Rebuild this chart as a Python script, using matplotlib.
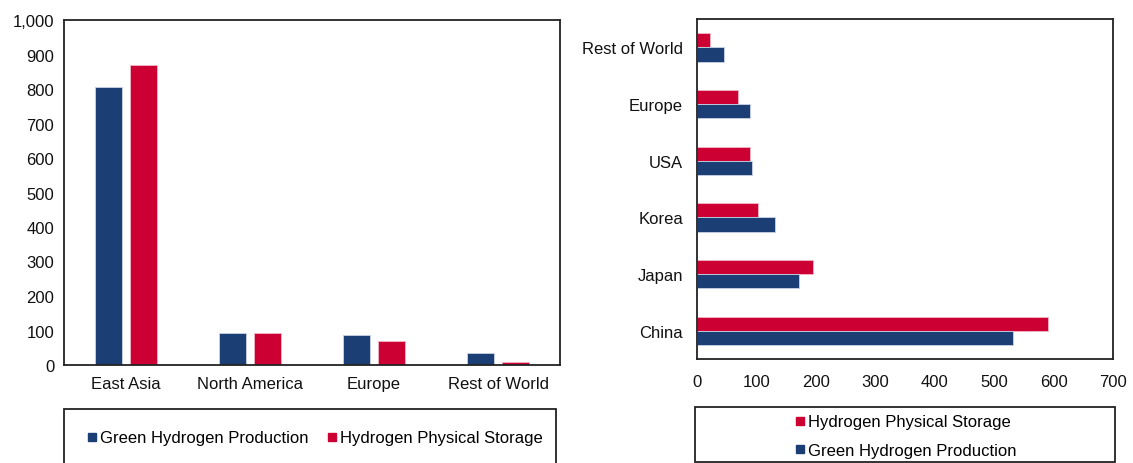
import matplotlib
matplotlib.use("Agg")
import matplotlib.pyplot as plt
from matplotlib.patches import Rectangle
from matplotlib.lines import Line2D
import numpy as np

plt.rcParams['font.family'] = ['Liberation Sans', 'DejaVu Sans']

# === datos ===
regions = ["East Asia", "North America", "Europe", "Rest of World"]
region_production = [805, 94, 88, 36]
region_storage = [869, 94, 70, 8]

countries = ["China", "Japan", "Korea", "USA", "Europe", "Rest of World"]
country_production = [531, 172, 132, 92, 89, 45]
country_storage = [591, 195, 102, 89, 69, 22]

BLUE = "#1b3f74"
RED = "#cc0033"
W, H = 1133, 464

fig = plt.figure(figsize=(W / 100, H / 100), dpi=100)

def box(x0, y0, x1, y1):
    # caja en coordenadas de pixel (origen arriba a la izquierda)
    return [x0 / W, 1 - y1 / H, (x1 - x0) / W, (y1 - y0) / H]

# === grafico izquierdo (barras verticales) ===
ax1 = fig.add_axes(box(64, 21, 560, 366))
x = np.arange(len(regions))
bw = 0.22
ax1.bar(x - 0.14, region_production, bw, color=BLUE, edgecolor="#c9d3e3", linewidth=0.6)
ax1.bar(x + 0.14, region_storage, bw, color=RED, edgecolor="#f2b8c6", linewidth=0.6)
ax1.set_xlim(-0.5, len(regions) - 0.5)
ax1.set_ylim(0, 1000)
ax1.set_yticks(range(0, 1001, 100))
ax1.set_yticklabels([f"{v:,}" for v in range(0, 1001, 100)])
ax1.set_xticks(x)
ax1.set_xticklabels(regions)

# === grafico derecho (barras horizontales) ===
ax2 = fig.add_axes(box(697, 20, 1113, 360))
y = np.arange(len(countries))
bh = 0.25
ax2.barh(y + bh / 2, country_storage, bh, color=RED, edgecolor="#f2b8c6", linewidth=0.6)
ax2.barh(y - bh / 2, country_production, bh, color=BLUE, edgecolor="#c9d3e3", linewidth=0.6)
ax2.set_ylim(-0.5, len(countries) - 0.5)
ax2.set_xlim(0, 700)
ax2.set_xticks(range(0, 701, 100))
ax2.set_yticks(y)
ax2.set_yticklabels(countries)

for ax in (ax1, ax2):
    for s in ax.spines.values():
        s.set_color("#222222")
        s.set_linewidth(1.3)
    ax.tick_params(length=0, labelsize=12, colors="#111111", pad=7)

ax1.tick_params(axis="x", pad=8)
ax2.tick_params(axis="x", pad=11)
ax2.tick_params(axis="y", pad=10)

# === leyendas ===
fig.patches.append(Rectangle((64 / W, -0.2), (556 - 64) / W, 0.2 + (464 - 410) / H,
                             transform=fig.transFigure, fill=False,
                             edgecolor="#222222", linewidth=1.3))
fig.patches.append(Rectangle((695 / W, 1 - 463 / H), (1115 - 695) / W, (463 - 408) / H,
                             transform=fig.transFigure, fill=False,
                             edgecolor="#222222", linewidth=1.3))

h_blue = Line2D([], [], marker="s", linestyle="", color=BLUE, markersize=6)
h_red = Line2D([], [], marker="s", linestyle="", color=RED, markersize=6)

fig.legend([h_blue, h_red], ["Green Hydrogen Production", "Hydrogen Physical Storage"],
           loc="center", bbox_to_anchor=(313 / W, 1 - 439 / H), ncol=2, frameon=False,
           fontsize=12, handletextpad=0.0, columnspacing=0.9, handlelength=1.0)
fig.legend([h_red, h_blue], ["Hydrogen Physical Storage", "Green Hydrogen Production"],
           loc="center", bbox_to_anchor=(904 / W, 1 - 437 / H), ncol=1, frameon=False,
           fontsize=12, handletextpad=0.0, labelspacing=0.8, handlelength=1.0)

fig.savefig("out.png", dpi=100)
